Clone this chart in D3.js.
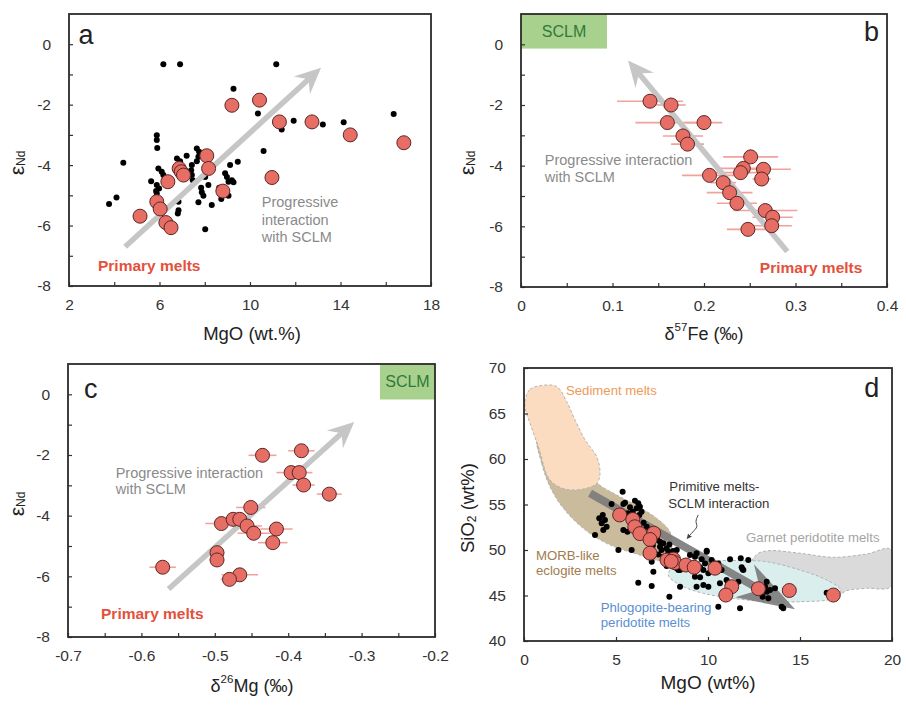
<!DOCTYPE html>
<html>
<head>
<meta charset="utf-8">
<script src="https://cdn.jsdelivr.net/npm/d3@7"></script>
<style>
  body { margin: 0; background: #fff; }
  svg { font-family: "Liberation Sans", Arial, sans-serif; }
</style>
</head>
<body>
<svg id="chart" width="906" height="707"></svg>
<script>
// ---- panel a: eNd vs MgO ----
const aRed = [[9.2,-2.02],[10.42,-1.85],[11.3,-2.57],[12.74,-2.57],[14.43,-3.0],[16.8,-3.26],[10.97,-4.41],
  [8.09,-3.69],[8.17,-4.11],[6.87,-4.11],[6.96,-4.22],[7.06,-4.33],[6.37,-4.55],[8.8,-4.86],
  [5.88,-5.21],[6.03,-5.45],[5.14,-5.69],[6.28,-5.9],[6.51,-6.07]];
const aBlack = [[6.17,-0.66],[6.91,-0.66],[11.16,-0.66],[9.27,-1.47],[10.35,-2.29],[11.93,-2.53],[11.4,-2.82],
  [13.22,-2.66],[14.14,-2.58],[16.35,-2.31],[10.6,-3.53],[9.46,-3.89],[9.12,-4.0],[4.4,-3.92],[4.1,-5.07],
  [3.77,-5.29],[8.02,-6.12],[8.31,-5.32],[8.73,-5.12],[9.05,-5.01],[7.72,-5.23],[6.84,-5.21],[6.84,-5.49],
  [6.81,-5.6],[5.88,-3.01],[5.88,-3.17],[5.9,-3.43],[5.95,-4.11],[6.1,-4.22],[6.17,-4.33],[5.63,-4.53],
  [5.88,-4.66],[5.85,-4.86],[5.88,-4.94],[5.98,-4.77],[6.77,-3.78],[6.91,-3.87],[7.2,-3.69],[7.43,-4.0],
  [7.4,-4.17],[7.43,-4.33],[7.47,-4.5],[7.65,-3.45],[7.75,-3.56],[7.72,-3.72],[7.65,-3.87],[8.02,-4.39],
  [7.84,-4.75],[7.87,-4.9],[7.94,-5.01],[8.16,-4.66],[8.9,-4.27],[8.98,-4.39],[9.05,-4.55],[9.2,-4.5],
  [9.27,-4.57],[8.64,-4.75]];
const aXTicks = [2,4,6,8,10,12,14,16,18];
const aXLabels = [2,6,10,14,18];
const eNdTicks = [-8,-7,-6,-5,-4,-3,-2,-1,0];
const eNdLabels = [-8,-6,-4,-2,0];
const aArrow = [[4.48,-6.7],[13.14,-0.78]];

// ---- panel b: eNd vs d57Fe, [x, y, 2sd half-width] ----
const bRed = [[0.141,-1.875,0.036],[0.164,-2.0,0.016],[0.160,-2.58,0.035],[0.200,-2.58,0.02],
  [0.177,-3.02,0.022],[0.182,-3.29,0.018],[0.251,-3.71,0.03],[0.243,-4.09,0.03],[0.240,-4.23,0.03],
  [0.265,-4.12,0.03],[0.263,-4.44,0.01],[0.206,-4.32,0.03],[0.221,-4.56,0.014],[0.228,-4.89,0.025],
  [0.236,-5.24,0.022],[0.267,-5.48,0.035],[0.275,-5.70,0.022],[0.274,-5.98,0.022],[0.248,-6.10,0.023]];
const bXTicks = [0,0.05,0.1,0.15,0.2,0.25,0.3,0.35,0.4];
const bXLabels = [0,0.1,0.2,0.3,0.4];
const bArrow = [[0.291,-6.83],[0.117,-0.53]];
const bSclm = [[0,1],[0.094,-0.14]];

// ---- panel c: eNd vs d26Mg ----
const cRed = [[-0.435,-2.01,0.019],[-0.382,-1.86,0.018],[-0.396,-2.58,0.02],[-0.385,-2.58,0.018],
  [-0.379,-2.99,0.015],[-0.344,-3.29,0.017],[-0.451,-3.73,0.02],[-0.491,-4.26,0.022],[-0.475,-4.12,0.015],
  [-0.466,-4.12,0.015],[-0.456,-4.34,0.02],[-0.447,-4.58,0.022],[-0.416,-4.44,0.022],[-0.421,-4.89,0.02],
  [-0.497,-5.22,0.01],[-0.497,-5.46,0.01],[-0.571,-5.70,0.018],[-0.466,-5.95,0.025],[-0.480,-6.10,0.012]];
const cXTicks = [-0.7,-0.65,-0.6,-0.55,-0.5,-0.45,-0.4,-0.35,-0.3,-0.25,-0.2];
const cXLabels = [-0.7,-0.6,-0.5,-0.4,-0.3,-0.2];
const cArrow = [[-0.563,-6.42],[-0.31,-0.91]];
const cSclm = [[-0.275,1],[-0.2,-0.17]];

// ---- panel d: SiO2 vs MgO ----
const dRed = [[5.2,53.85],[5.91,53.35],[6.02,52.55],[6.3,51.8],[7.05,51.85],[6.85,51.15],[6.85,49.65],
  [7.77,48.9],[8.12,49.0],[8.2,48.6],[8.0,48.75],[8.8,48.35],[9.25,48.1],[10.38,48.0],[11.29,45.97],
  [10.97,45.05],[12.74,45.75],[14.42,45.55],[16.81,45.05]];
const dBlack = [[5.36,56.41],[4.76,55.05],[5.40,55.05],[5.49,55.2],[6.03,55.42],[6.21,55.13],[6.30,54.76],
  [6.12,54.58],[6.39,54.21],[6.27,53.85],[5.76,54.69],[5.91,54.21],[5.67,54.03],[4.28,53.85],[4.09,53.48],
  [4.40,53.3],[4.22,52.93],[4.49,52.56],[4.31,52.2],[3.86,51.65],[5.13,50.0],[5.85,50.0],[5.40,52.2],
  [5.62,52.01],[6.67,52.56],[6.85,52.2],[7.12,52.2],[7.21,51.65],[7.25,51.1],[7.39,50.37],[7.57,50.73],
  [7.75,50.18],[7.84,49.82],[7.57,49.27],[8.03,49.45],[8.30,50.0],[8.21,48.53],[8.39,48.72],[7.75,48.24],
  [8.30,47.99],[8.48,47.8],[6.67,49.45],[6.94,48.72],[7.39,50.92],[7.48,50.0],[6.5,53.0],[6.6,51.5],
  [7.0,50.5],[7.3,49.5],[7.9,50.6],[8.1,49.9],[9.02,49.45],[9.29,49.27],[9.66,48.97],[9.93,49.82],
  [9.84,48.53],[10.20,48.9],[9.57,48.1],[9.75,47.8],[10.02,47.44],[10.56,48.53],[10.74,47.8],[11.01,46.7],
  [10.65,46.34],[11.10,46.34],[11.65,46.52],[11.83,48.1],[11.92,47.8],[12.19,48.9],[6.21,46.41],
  [6.94,46.04],[7.90,44.87],[7.03,47.62],[8.39,47.8],[8.48,45.97],[9.38,45.97],[9.75,46.15],[10.02,45.97],
  [9.29,47.07],[9.57,47.0],[12.97,44.87],[13.10,45.97],[13.19,45.42],[13.37,45.6],[13.28,44.69],
  [13.19,46.52],[13.64,45.79],[10.56,43.77],[11.74,43.59],[14.0,43.77],[14.09,43.59],[16.45,45.3],
  [11.2,48.98],[11.78,49.09],[11.88,47.88],[9.93,49.93],[9.38,49.63]];
const dXTicks = [0,5,10,15,20];
const dYTicks = [40,45,50,55,60,65,70];
const dArrow = [[3.59,56.23],[14.73,43.48]];
const sedimentField = [[0.11,66.85],[0.33,67.66],[0.87,68.06],[1.78,67.95],[2.32,66.3],[2.77,64.3],
  [3.32,62.1],[3.95,60.25],[4.13,58.4],[3.95,57.3],[3.22,56.7],[2.23,56.7],[1.41,57.7],[0.78,61.35],
  [0.33,63.9],[0.05,65.75]];
const morbField = [[0.72,62.45],[0.96,59.53],[1.41,56.96],[2.14,54.58],[3.22,52.38],[4.49,50.73],
  [6.12,49.56],[7.57,48.9],[8.03,50.36],[7.93,52.0],[7.21,53.48],[6.12,54.87],[5.04,56.04],[4.04,57.25],
  [3.59,58.43],[1.41,62.45]];
const garnetField = [[12.37,48.72],[12.74,49.64],[13.37,49.93],[15.0,49.64],[16.81,49.2],[18.62,49.56],
  [19.93,50.07],[19.93,45.97],[18.62,45.79],[17.54,45.53],[17.08,45.05],[15.9,45.24],[13.19,46.7],[12.37,47.44]];
const phlogField = [[7.84,47.25],[8.12,48.17],[9.02,48.61],[10.47,48.83],[11.92,48.83],[13.19,48.72],
  [15.0,47.8],[16.45,46.7],[17.21,45.6],[16.81,44.69],[15.0,44.32],[13.19,44.32],[11.38,44.69],
  [9.74,45.24],[8.48,46.15]];
const squiggle = [[9.47,53.85],[9.29,53.11],[9.47,52.56],[9.17,52.01],[8.88,51.29]];

const RED = '#e66e64';
const RED_TEXT = '#e4503a';
const GREY_TEXT = '#8a8a8a';

const svg = d3.select('#chart');
const defs = svg.append('defs');
defs.append('marker').attr('id', 'smallhead').attr('viewBox', '0 0 10 10')
  .attr('refX', 8).attr('refY', 5).attr('markerWidth', 5).attr('markerHeight', 5)
  .attr('orient', 'auto').append('path').attr('d', 'M0,0L10,5L0,10Z').attr('fill', '#444');

function makePanel(id, box, xDomain, yDomain) {
  const x = d3.scaleLinear().domain(xDomain).range([box.left, box.right]);
  const y = d3.scaleLinear().domain(yDomain).range([box.bottom, box.top]);
  const g = svg.append('g');
  defs.append('clipPath').attr('id', 'clip-' + id).append('rect')
    .attr('x', box.left).attr('y', box.top)
    .attr('width', box.right - box.left).attr('height', box.bottom - box.top);
  const plot = g.append('g').attr('clip-path', `url(#clip-${id})`);
  return { x, y, g, plot, box };
}

function drawAxes(p, xTicks, xLabels, yTicks, yLabels) {
  const fmt = (labels) => (v) => (labels.some((l) => Math.abs(l - v) < 1e-9) ? String(v) : '');
  const xa = p.g.append('g').attr('transform', `translate(0,${p.box.bottom})`)
    .call(d3.axisBottom(p.x).tickValues(xTicks).tickSizeInner(-4).tickSizeOuter(0)
      .tickPadding(13).tickFormat(fmt(xLabels)));
  const ya = p.g.append('g').attr('transform', `translate(${p.box.left},0)`)
    .call(d3.axisLeft(p.y).tickValues(yTicks).tickSizeInner(-4).tickSizeOuter(0)
      .tickPadding(18).tickFormat(fmt(yLabels)));
  [xa, ya].forEach((a) => {
    a.select('.domain').remove();
    a.attr('font-family', null).attr('font-size', 15.5);
    a.selectAll('line').attr('stroke', '#333').attr('stroke-width', 1.2);
    a.selectAll('text').attr('fill', '#333');
  });
  p.g.append('rect').attr('x', p.box.left).attr('y', p.box.top)
    .attr('width', p.box.right - p.box.left).attr('height', p.box.bottom - p.box.top)
    .attr('fill', 'none').attr('stroke', '#2b2b2b').attr('stroke-width', 1.8);
}

function arrow(g, p, pts, o) {
  const x0 = p.x(pts[0][0]), y0 = p.y(pts[0][1]);
  const x1 = p.x(pts[1][0]), y1 = p.y(pts[1][1]);
  const ang = Math.atan2(y1 - y0, x1 - x0);
  const ux = Math.cos(ang), uy = Math.sin(ang), nx = -uy, ny = ux;
  const bx = x1 - ux * o.head, by = y1 - uy * o.head;
  const kx = x1 - ux * o.notch, ky = y1 - uy * o.notch;
  g.append('line').attr('x1', x0).attr('y1', y0).attr('x2', kx + ux * 2).attr('y2', ky + uy * 2)
    .attr('stroke', o.color).attr('stroke-width', o.width).attr('opacity', o.opacity || 1);
  g.append('path')
    .attr('d', `M${x1},${y1}L${bx + nx * o.half},${by + ny * o.half}L${kx},${ky}L${bx - nx * o.half},${by - ny * o.half}Z`)
    .attr('fill', o.color).attr('opacity', o.opacity || 1);
}

function label(g, x, y, str, o = {}) {
  return g.append('text').attr('x', x).attr('y', y).attr('dominant-baseline', 'central')
    .attr('text-anchor', o.anchor || 'start').attr('font-size', o.size || 14)
    .attr('font-weight', o.weight || 'normal').attr('fill', o.color || '#222').text(str);
}

function epsTitle(cx, cy) {
  const t = svg.append('text').attr('transform', `translate(${cx},${cy}) rotate(-90)`)
    .attr('text-anchor', 'middle').attr('dominant-baseline', 'central').attr('fill', '#222');
  t.append('tspan').attr('font-size', 21).text('ε');
  t.append('tspan').attr('font-size', 12).attr('dy', 5).text('Nd');
}

function deltaTitle(cx, cy, mass, elem) {
  const t = svg.append('text').attr('x', cx).attr('y', cy).attr('text-anchor', 'middle')
    .attr('dominant-baseline', 'central').attr('fill', '#222');
  t.append('tspan').attr('font-size', 18).text('δ');
  t.append('tspan').attr('font-size', 11.5).attr('dy', -7).text(mass);
  t.append('tspan').attr('font-size', 18).attr('dy', 7).text(elem + ' (‰)');
}

function redDots(g, p, data) {
  g.selectAll(null).data(data).enter().append('circle')
    .attr('cx', (d) => p.x(d[0])).attr('cy', (d) => p.y(d[1])).attr('r', 7)
    .attr('fill', RED).attr('stroke', '#5a2626').attr('stroke-width', 1);
}

function blackDots(g, p, data) {
  g.selectAll(null).data(data).enter().append('circle')
    .attr('cx', (d) => p.x(d[0])).attr('cy', (d) => p.y(d[1])).attr('r', 3).attr('fill', '#000');
}

function errorBars(g, p, data) {
  g.selectAll(null).data(data).enter().append('line')
    .attr('x1', (d) => p.x(d[0] - d[2])).attr('x2', (d) => p.x(d[0] + d[2]))
    .attr('y1', (d) => p.y(d[1])).attr('y2', (d) => p.y(d[1]))
    .attr('stroke', '#f0a29c').attr('stroke-width', 1.6);
}

function sclmBox(g, p, corners) {
  g.append('rect').attr('x', p.x(corners[0][0])).attr('y', p.y(corners[0][1]))
    .attr('width', p.x(corners[1][0]) - p.x(corners[0][0]))
    .attr('height', p.y(corners[1][1]) - p.y(corners[0][1])).attr('fill', '#a9d18e');
  label(g, (p.x(corners[0][0]) + p.x(corners[1][0])) / 2, (p.y(corners[0][1]) + p.y(corners[1][1])) / 2,
    'SCLM', { anchor: 'middle', size: 16, color: '#2e7a3a' });
}

const greyArrow = { color: '#c6c6c6', width: 5.5, head: 26, notch: 17, half: 12 };

// ---------------- panel a ----------------
const pa = makePanel('a', { left: 69, right: 431, top: 14, bottom: 286 }, [2, 18], [-8, 1]);
blackDots(pa.plot, pa, aBlack);
arrow(pa.plot, pa, aArrow, greyArrow);
redDots(pa.plot, pa, aRed);
label(pa.g, pa.x(2.75), pa.y(0.3), 'a', { anchor: 'middle', size: 27 });
label(pa.g, pa.x(10.52), pa.y(-5.22), 'Progressive', { size: 14.5, color: GREY_TEXT });
label(pa.g, pa.x(10.52), pa.y(-5.8), 'interaction', { size: 14.5, color: GREY_TEXT });
label(pa.g, pa.x(10.52), pa.y(-6.38), 'with SCLM', { size: 14.5, color: GREY_TEXT });
label(pa.g, pa.x(3.28), pa.y(-7.31), 'Primary melts', { size: 15.5, weight: 'bold', color: RED_TEXT });
drawAxes(pa, aXTicks, aXLabels, eNdTicks, eNdLabels);
label(svg, 252, 333, 'MgO (wt.%)', { anchor: 'middle', size: 18.5 });
epsTitle(16, 163);

// ---------------- panel b ----------------
const pb = makePanel('b', { left: 521, right: 887, top: 14, bottom: 287 }, [0, 0.4], [-8, 1]);
sclmBox(pb.plot, pb, bSclm);
errorBars(pb.plot, pb, bRed);
arrow(pb.plot, pb, bArrow, greyArrow);
redDots(pb.plot, pb, bRed);
label(pb.g, pb.x(0.383), pb.y(0.4), 'b', { anchor: 'middle', size: 27 });
label(pb.g, pb.x(0.026), pb.y(-3.8), 'Progressive interaction', { size: 14.5, color: GREY_TEXT });
label(pb.g, pb.x(0.026), pb.y(-4.38), 'with SCLM', { size: 14.5, color: GREY_TEXT });
label(pb.g, pb.x(0.261), pb.y(-7.35), 'Primary melts', { size: 15.5, weight: 'bold', color: RED_TEXT });
drawAxes(pb, bXTicks, bXLabels, eNdTicks, eNdLabels);
deltaTitle(704, 334, '57', 'Fe');
epsTitle(466, 163);

// ---------------- panel c ----------------
const pc = makePanel('c', { left: 68, right: 435, top: 364, bottom: 637 }, [-0.7, -0.2], [-8, 1]);
sclmBox(pc.plot, pc, cSclm);
errorBars(pc.plot, pc, cRed);
arrow(pc.plot, pc, cArrow, greyArrow);
redDots(pc.plot, pc, cRed);
label(pc.g, pc.x(-0.669), pc.y(0.16), 'c', { anchor: 'middle', size: 27 });
label(pc.g, pc.x(-0.635), pc.y(-2.58), 'Progressive interaction', { size: 14.5, color: GREY_TEXT });
label(pc.g, pc.x(-0.635), pc.y(-3.11), 'with SCLM', { size: 14.5, color: GREY_TEXT });
label(pc.g, pc.x(-0.655), pc.y(-7.23), 'Primary melts', { size: 15.5, weight: 'bold', color: RED_TEXT });
drawAxes(pc, cXTicks, cXLabels, eNdTicks, eNdLabels);
deltaTitle(252, 686, '26', 'Mg');
epsTitle(16, 504);

// ---------------- panel d ----------------
const pd = makePanel('d', { left: 524, right: 892, top: 368, bottom: 641 }, [0, 20], [40, 70]);
const field = d3.line().x((d) => pd.x(d[0])).y((d) => pd.y(d[1])).curve(d3.curveCatmullRomClosed.alpha(0.5));
[[garnetField, '#dadada'], [phlogField, '#dbeeee'], [morbField, '#cbbb9d'], [sedimentField, '#fbdcc1']]
  .forEach(([pts, fill]) => {
    pd.plot.append('path').attr('d', field(pts)).attr('fill', fill)
      .attr('stroke', '#b3b3b3').attr('stroke-width', 1).attr('stroke-dasharray', '3,2');
  });
arrow(pd.plot, pd, dArrow, { color: '#7b7b7b', width: 8, head: 58, notch: 40, half: 19, opacity: 0.9 });
blackDots(pd.plot, pd, dBlack);
redDots(pd.plot, pd, dRed);
pd.plot.append('path').attr('d', d3.line().x((d) => pd.x(d[0])).y((d) => pd.y(d[1]))
  .curve(d3.curveBasis)(squiggle)).attr('fill', 'none').attr('stroke', '#444')
  .attr('stroke-width', 1).attr('marker-end', 'url(#smallhead)');
label(pd.g, pd.x(18.9), pd.y(67.8), 'd', { anchor: 'middle', size: 27 });
label(pd.g, pd.x(2.28), pd.y(67.58), 'Sediment melts', { size: 13.2, color: '#ee9a5a' });
label(pd.g, pd.x(7.9), pd.y(56.96), 'Primitive melts-', { size: 13.2, color: '#333' });
label(pd.g, pd.x(7.84), pd.y(55.13), 'SCLM interaction', { size: 13.2, color: '#333' });
label(pd.g, pd.x(12.07), pd.y(51.4), 'Garnet peridotite melts', { size: 13.2, color: '#a4a4a4' });
label(pd.g, pd.x(0.65), pd.y(49.45), 'MORB-like', { size: 13.2, color: '#a27c4e' });
label(pd.g, pd.x(0.65), pd.y(47.8), 'eclogite melts', { size: 13.2, color: '#a27c4e' });
label(pd.g, pd.x(4.17), pd.y(43.7), 'Phlogopite-bearing', { size: 13.2, color: '#5b8fd0' });
label(pd.g, pd.x(4.17), pd.y(42.0), 'peridotite melts', { size: 13.2, color: '#5b8fd0' });
drawAxes(pd, dXTicks, dXTicks, dYTicks, dYTicks);
label(svg, 708, 682, 'MgO (wt%)', { anchor: 'middle', size: 19 });
const dt = svg.append('text').attr('transform', 'translate(467,508) rotate(-90)')
  .attr('text-anchor', 'middle').attr('dominant-baseline', 'central').attr('fill', '#222');
dt.append('tspan').attr('font-size', 18.5).text('SiO');
dt.append('tspan').attr('font-size', 12).attr('dy', 5).text('2');
dt.append('tspan').attr('font-size', 18.5).attr('dy', -5).text(' (wt%)');
</script>
</body>
</html>
